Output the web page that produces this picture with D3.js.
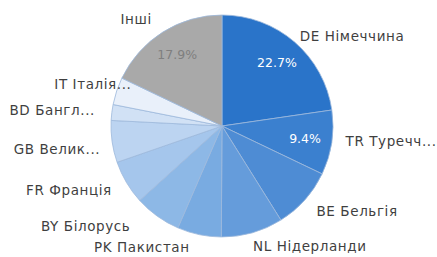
<!DOCTYPE html>
<html>
<head>
<meta charset="utf-8">
<script src="https://cdn.jsdelivr.net/npm/d3@7"></script>
<style>
  body { margin: 0; background: #fff; }
  text { font-family: "DejaVu Sans", sans-serif; }
</style>
</head>
<body>
<div id="graph"></div>
<script>
var categories = ["DE Німеччина", "TR Туречч...", "BE Бельгія", "NL Нідерланди", "PK Пакистан",
  "BY Білорусь", "FR Франція", "GB Велик...", "BD Бангл...", "IT Італія...", "Інші"];
var shares = [22.7, 9.4, 9.0, 9.0, 6.4, 6.8, 6.4, 6.1, 2.3, 4.0, 17.9];
var shownPct = ["22.7%", "9.4%", "", "", "", "", "", "", "", "", "17.9%"];

var colors = ["#2a74c9", "#3b80cf", "#4e8cd4", "#659cdb", "#79abe1", "#8db8e6",
  "#a5c6ec", "#bcd4f1", "#d1e1f5", "#e9f0fa", "#a9a9a9"];

// label nudges (layout only)
var nudge = {
  "Інші": [-2, 2], "DE Німеччина": [-6, 7], "TR Туречч...": [-3, -4], "BE Бельгія": [-1, 0],
  "NL Нідерланди": [-4, -3], "PK Пакистан": [-6, -4], "BY Білорусь": [-17, -4],
  "FR Франція": [0, -1], "GB Велик...": [5, 5], "BD Бангл...": [0, 0], "IT Італія...": [31, -1]
};

var width = 437, height = 257;
var cx = 222, cy = 126, r = 111;

var svg = d3.select("#graph").append("svg").attr("width", width).attr("height", height);
var g = svg.append("g").attr("transform", "translate(" + cx + "," + cy + ")");

var data = categories.map(function (c, i) { return { name: c, value: shares[i], pct: shownPct[i], color: colors[i] }; });

var pie = d3.pie().sort(null).value(function (d) { return d.value; });
var arc = d3.arc().innerRadius(0).outerRadius(r);
var pctArc = d3.arc().innerRadius(84).outerRadius(84);
var labelArc = d3.arc().innerRadius(128).outerRadius(128);

var arcs = pie(data);

g.selectAll("path").data(arcs).join("path")
  .attr("d", arc)
  .attr("fill", function (d) { return d.data.color; })
  .attr("stroke", "#9db9dc")
  .attr("stroke-width", 0.8);

g.selectAll("text.pct").data(arcs.filter(function (d) { return d.data.pct; })).join("text")
  .attr("class", "pct")
  .attr("transform", function (d) { return "translate(" + pctArc.centroid(d) + ")"; })
  .attr("text-anchor", "middle")
  .attr("dy", "0.35em")
  .attr("font-size", 12.5)
  .attr("fill", function (d) { return d.data.name === "Інші" ? "#7f7f7f" : "#fff"; })
  .text(function (d) { return d.data.pct; });

g.selectAll("text.lbl").data(arcs).join("text")
  .attr("class", "lbl")
  .attr("transform", function (d) {
    var p = labelArc.centroid(d), n = nudge[d.data.name] || [0, 0];
    return "translate(" + (p[0] + n[0]) + "," + (p[1] + n[1]) + ")";
  })
  .attr("text-anchor", function (d) {
    var s = Math.sin((d.startAngle + d.endAngle) / 2);
    return s > 0.15 ? "start" : s < -0.15 ? "end" : "middle";
  })
  .attr("dy", "0.35em")
  .attr("font-size", 13.5)
  .attr("letter-spacing", 0.6)
  .attr("fill", "#3f3f3f")
  .text(function (d) { return d.data.name; });
</script>
</body>
</html>
